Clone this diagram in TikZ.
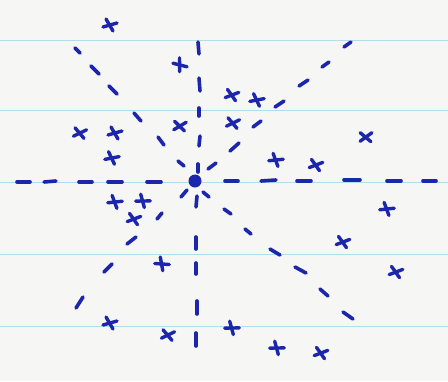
\documentclass[tikz,border=0pt]{standalone}
\definecolor{ink}{RGB}{28,38,172}
\definecolor{paper}{RGB}{246,246,244}
\definecolor{rulecol}{RGB}{178,220,238}
\begin{document}
\begin{tikzpicture}[x=1pt,y=-1pt,
  dashstroke/.style={draw=ink,line width=3.6pt,line cap=round},
  rulestroke/.style={draw=rulecol,line width=1pt},
  centerdot/.style={circle,fill=ink,minimum size=13pt,inner sep=0pt},
  xmark/.pic={
    \draw[draw=ink,line width=3.4pt,line cap=round] (-7,2) -- (7,-2);
    \draw[draw=ink,line width=3.4pt,line cap=round] (-4,-6) -- (3,6);
  }]
\fill[paper] (0,0) rectangle (448,381);
\useasboundingbox (0,0) rectangle (448,381);
% ruled paper lines
\foreach \y in {40,110,182,254,326} \draw[rulestroke] (0,\y) -- (448,\y);
% centre dot
\node[centerdot] (c) at (195,181) {};
% dashed rays
\foreach \a/\b/\cc/\d in {
  % horizontal left
  17/182/30/182, 44/182/56/181, 79/182/92/182, 108/182/122/182, 147/182/161/182,
  % horizontal right
  225/181/238/181, 261/181/276/180, 297/181/311/181, 344/180/360/180, 387/181/401/181, 423/181/436/181,
  % vertical top
  198/42/199/54, 199/78/200/91, 199/108/199/116, 200/136/199/146, 198/164/198/172,
  % vertical bottom
  197/196/196/207, 196/237/196/249, 196/263/196/274, 197/301/197/314, 196/333/196/346,
  % upper-left diagonal
  75/48/80/53, 91/66/99/74, 109/86/117/94, 134/113/141/121, 158/137/164/145, 178/161/184/166,
  % upper-right diagonal
  208/169/216/163, 230/151/239/143, 253/127/261/121, 275/107/284/101, 299/86/308/80, 322/67/329/62, 344/47/351/42,
  % lower-right diagonal
  203/192/209/197, 224/209/231/214, 245/229/251/234, 270/249/280/255, 295/267/306/273, 320/289/328/296, 343/312/353/319,
  % lower-left diagonal
  181/197/187/190, 157/219/162/213, 127/244/136/237, 104/272/112/264, 76/308/83/297}
  \draw[dashstroke] (\a,\b) -- (\cc,\d);
% crosses
\foreach \x/\y/\r in {
  110/25/0, 180/65/-30, 80/133/10, 115/133/0, 112/158/-5, 180/126/15,
  232/95/5, 257/100/-5, 233/123/10, 366/137/20, 276/160/-10, 316/165/5,
  115/202/-10, 143/201/-15, 134/219/5, 162/264/-20, 110/323/0, 168/335/10,
  387/209/-10, 343/242/5, 396/272/5, 232/328/-15, 277/348/-15, 321/353/5}
  \pic[rotate=\r] at (\x,\y) {xmark};
\end{tikzpicture}
\end{document}
